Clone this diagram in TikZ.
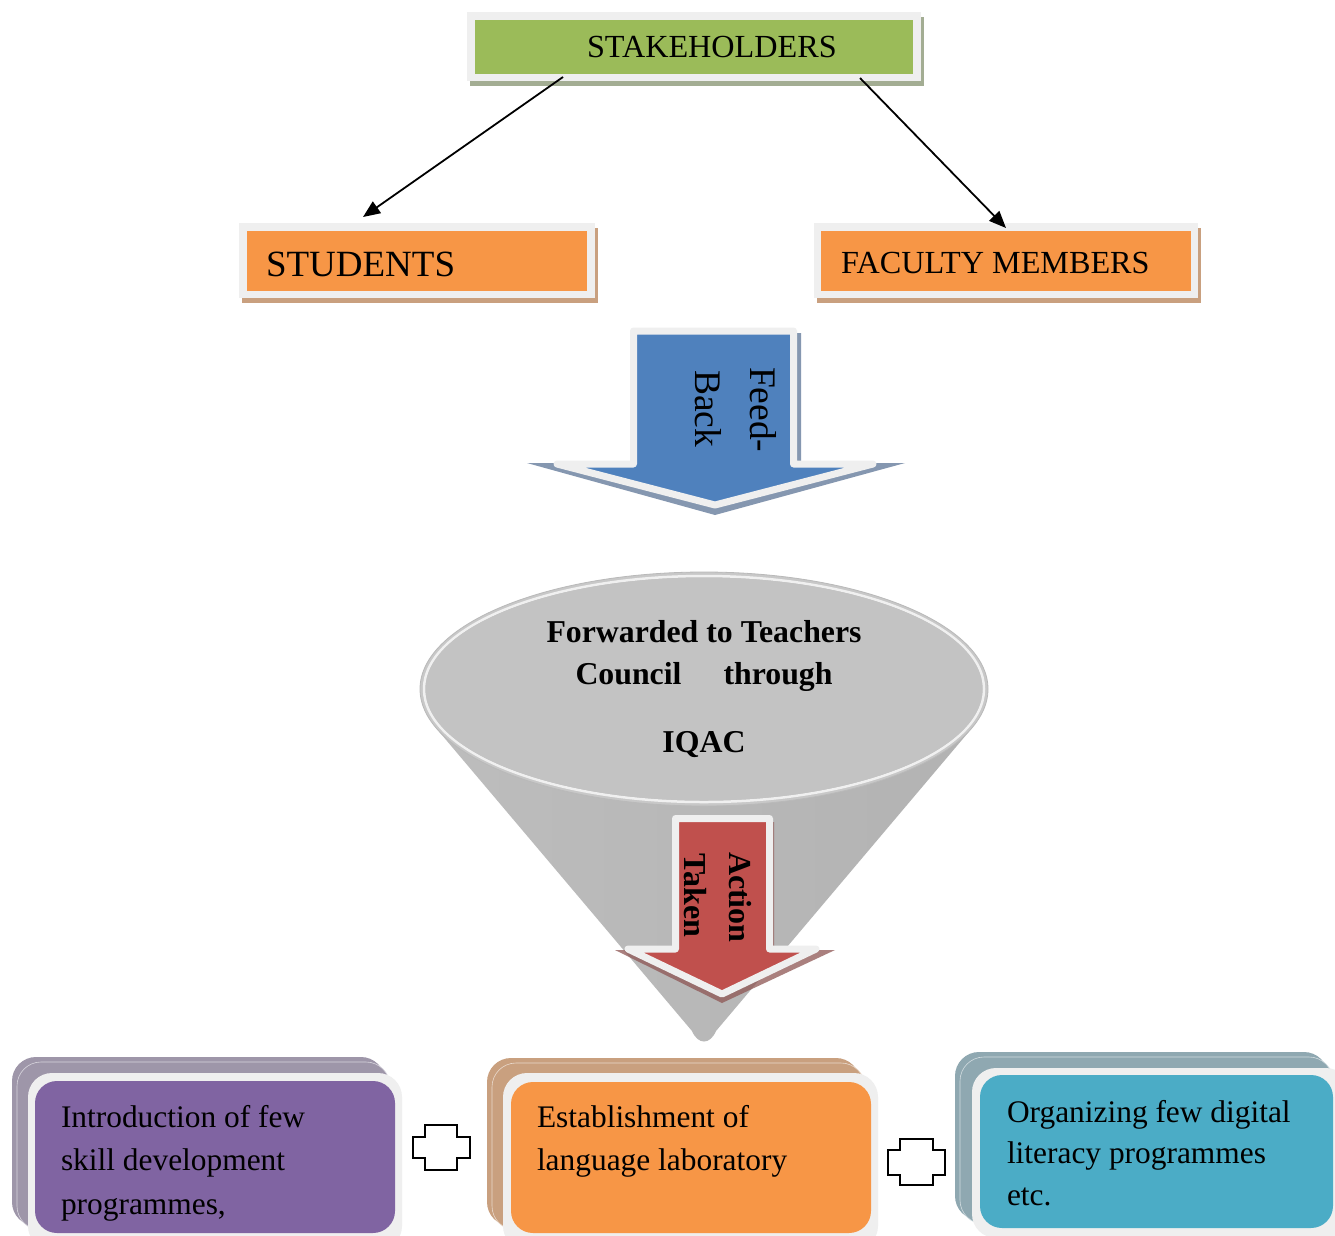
\documentclass[tikz,border=0pt]{standalone}
\usepackage{fontspec}
\setmainfont{Liberation Serif}
\usetikzlibrary{arrows.meta}
\definecolor{frameg}{HTML}{EFEFEF}
\definecolor{stgreen}{HTML}{9BBB59}
\definecolor{stgreensh}{HTML}{A3AD93}
\definecolor{storange}{HTML}{F79646}
\definecolor{storangesh}{HTML}{C9A07F}
\definecolor{stblue}{HTML}{4F81BD}
\definecolor{stbluesh}{HTML}{8597B0}
\definecolor{stred}{HTML}{C0504D}
\definecolor{stredsh}{HTML}{8E5654}
\definecolor{stpurple}{HTML}{8064A2}
\definecolor{stpurpleback}{HTML}{9E96A9}
\definecolor{stteal}{HTML}{4BACC6}
\definecolor{sttealback}{HTML}{8FA8B1}
\definecolor{sttanback}{HTML}{C9A07F}
\definecolor{funrim}{HTML}{C8C8C8}
\definecolor{funtop}{HTML}{C3C3C3}
\begin{document}
\begin{tikzpicture}[x=1pt,y=-1pt,
  txt/.style={inner sep=0pt, outer sep=0pt},
  boxtxt/.style={txt, anchor=base west, font=\fontsize{31.4}{37}\selectfont},
  conn/.style={line width=1.8pt, -{Triangle[length=17pt,width=14pt]}},
  blockframe/.style={draw=frameg, line width=7pt, line join=round},
  pluss/.style={draw=black, line width=1.3pt, fill=white},
  card/.style={rounded corners=24pt}]
\clip (0,0) rectangle (1335,1235);
\fill[white] (0,0) rectangle (1335,1235);

% ---------- STAKEHOLDERS ----------
\fill[stgreensh] (470,17) rectangle (924,86);
\fill[frameg] (467,12) rectangle (921,81);
\node[txt, fill=stgreen, minimum width=438pt, minimum height=54pt] (stake) at (694,46.5) {};
\node[txt, anchor=base west, font=\fontsize{32.2}{38}\selectfont] (staketxt) at (587,57) {STAKEHOLDERS};

% ---------- STUDENTS ----------
\fill[storangesh] (242,228) rectangle (598,303);
\fill[frameg] (239,223) rectangle (595,298);
\node[txt, fill=storange, minimum width=340pt, minimum height=60pt] (stud) at (417,261) {};
\node[txt, anchor=base west, font=\fontsize{37}{42}\selectfont] (studtxt) at (266,276) {STUDENTS};

% ---------- FACULTY MEMBERS ----------
\fill[storangesh] (817,228) rectangle (1201,303);
\fill[frameg] (814,223) rectangle (1198,298);
\node[txt, fill=storange, minimum width=370pt, minimum height=60pt] (fac) at (1006,261) {};
\node[txt, anchor=base west, font=\fontsize{32.2}{38}\selectfont] (factxt) at (841,273) {FACULTY MEMBERS};

% ---------- connectors ----------
\coordinate (s1) at (563,77);
\coordinate (t1) at (363,217);
\coordinate (s2) at (860,78);
\coordinate (t2) at (1006,228);
\draw[conn] (s1) -- (t1);
\draw[conn] (s2) -- (t2);

% ---------- Feed-Back arrow ----------
\fill[stbluesh] (637,333) -- (801,333) -- (801,463) -- (905,463) -- (715,515) -- (527,463) -- (637,463) -- cycle;
\draw[blockframe, fill=stblue] (633.5,331) -- (793.5,331) -- (793.5,464) -- (873,464) -- (715,505) -- (557,464) -- (633.5,464) -- cycle;
\node[txt, rotate=-90, anchor=base west, font=\fontsize{37.5}{42}\selectfont] (feed) at (750,367) {Feed-};
\node[txt, rotate=-90, anchor=base west, font=\fontsize{37.5}{42}\selectfont] (back) at (695,370) {Back};

% ---------- funnel ----------
\shade[left color=gray!52, middle color=gray!74, right color=gray!60]
  (436,728) -- (692,1031) .. controls (698,1045) and (710,1045) .. (716,1031) -- (972,728) -- cycle;
\fill[funrim] (704,689) ellipse [x radius=284pt, y radius=117pt];
\draw[gray!55, line width=0.8pt] (704,689) ellipse [x radius=284pt, y radius=117pt];
\draw[white!88!gray, line width=2.5pt] (704,689) ellipse [x radius=280pt, y radius=113pt];
\fill[funtop] (704,689) ellipse [x radius=278.5pt, y radius=111.5pt];
\node[txt, anchor=base, font=\fontsize{31.8}{37}\selectfont\bfseries] (fw1) at (704,642) {Forwarded to Teachers};
\node[txt, anchor=base, font=\fontsize{31.8}{37}\selectfont\bfseries] (fw2) at (704,684) {Council\hspace{42pt}through};
\node[txt, anchor=base, font=\fontsize{31.8}{37}\selectfont\bfseries] (fw3) at (704,752) {IQAC};

% ---------- Action Taken arrow ----------
\fill[stredsh, opacity=.75] (772,822) -- (774,822) -- (774,950) -- (835,950) -- (722,1003) -- (615,950) -- (772,950) -- cycle;
\draw[blockframe, fill=stred] (675.5,818.5) -- (769.5,818.5) -- (769.5,949) -- (816,949) -- (722,994) -- (628,949) -- (675.5,949) -- cycle;
\node[txt, rotate=-90, anchor=base west, font=\fontsize{32}{37}\selectfont\bfseries] (act) at (729,852) {Action};
\node[txt, rotate=-90, anchor=base west, font=\fontsize{32}{37}\selectfont\bfseries] (tak) at (684,853) {Taken};

% ---------- bottom left box ----------
\fill[card, stpurpleback] (12,1057) rectangle (385,1226);
\draw[card, fill=stpurpleback, draw=white!60!stpurpleback, line width=0.6pt] (17,1062) rectangle (390,1230);
\fill[card, frameg] (28,1073) rectangle (402,1250);
\node[txt, fill=stpurple, minimum width=360pt, minimum height=152pt, rounded corners=22pt] (b1) at (215,1157) {};
\node[boxtxt] (b1a) at (61,1127) {Introduction of few};
\node[boxtxt] (b1b) at (61,1170) {skill development};
\node[boxtxt] (b1c) at (61,1214) {programmes,};

% ---------- bottom middle box ----------
\fill[card, sttanback] (487,1058) rectangle (860,1226);
\draw[card, fill=sttanback, draw=white!60!sttanback, line width=0.6pt] (492,1063) rectangle (865,1230);
\fill[card, frameg] (503,1073) rectangle (878,1250);
\node[txt, fill=storange, minimum width=360pt, minimum height=151pt, rounded corners=22pt] (b2) at (691,1157.5) {};
\node[boxtxt] (b2a) at (537,1127) {Establishment of};
\node[boxtxt] (b2b) at (537,1170) {language laboratory};

% ---------- bottom right box ----------
\fill[card, sttealback] (955,1052) rectangle (1328,1220);
\draw[card, fill=sttealback, draw=white!60!sttealback, line width=0.6pt] (960,1057) rectangle (1333,1224);
\fill[card, frameg] (972,1068) rectangle (1350,1238);
\node[txt, fill=stteal, minimum width=353pt, minimum height=153pt, rounded corners=22pt] (b3) at (1156.5,1151.5) {};
\node[boxtxt] (b3a) at (1007,1122) {Organizing few digital};
\node[boxtxt] (b3b) at (1007,1163) {literacy programmes};
\node[boxtxt] (b3c) at (1007,1205) {etc.};

% ---------- plus connectors ----------
\draw[pluss] (425,1125) -- (457,1125) -- (457,1137) -- (470,1137) -- (470,1158) -- (457,1158) -- (457,1170) -- (425,1170) -- (425,1158) -- (413,1158) -- (413,1137) -- (425,1137) -- cycle;
\draw[pluss] (900,1139) -- (933,1139) -- (933,1150) -- (945,1150) -- (945,1175) -- (933,1175) -- (933,1185) -- (900,1185) -- (900,1175) -- (888,1175) -- (888,1150) -- (900,1150) -- cycle;
\end{tikzpicture}
\end{document}
